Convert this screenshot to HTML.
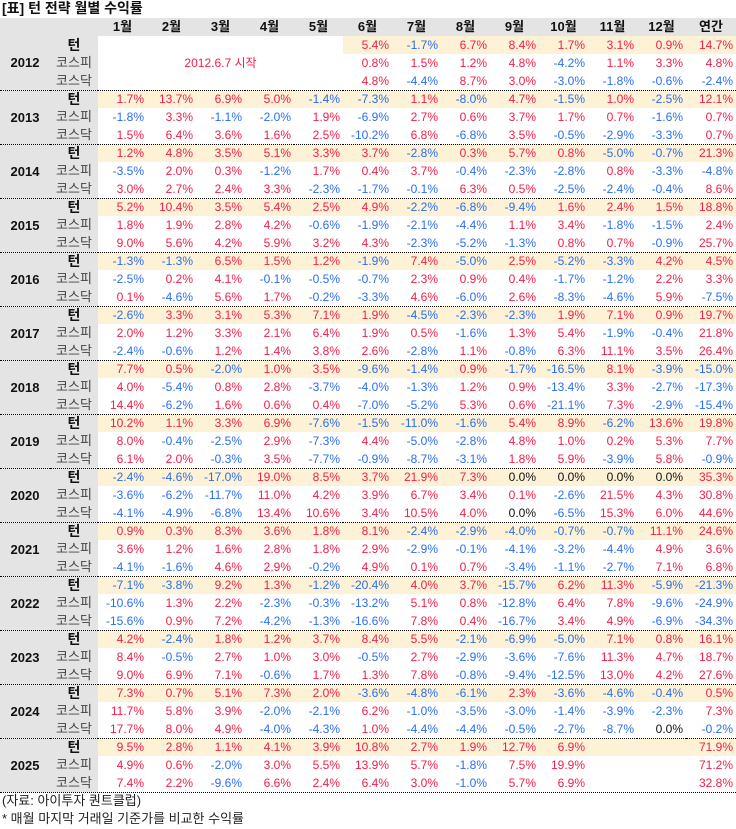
<!DOCTYPE html>
<html><head><meta charset="utf-8"><style>
body{margin:0;background:#fff;width:736px;height:829px;overflow:hidden;font-family:"Liberation Sans","Noto Sans CJK KR",sans-serif;}
.title{position:absolute;left:2px;top:0px;font-size:14px;font-weight:bold;color:#111;line-height:17px}
table{position:absolute;left:0;top:18px;border-collapse:separate;border-spacing:0;table-layout:fixed;width:736px;font-size:12px}
td{padding:0 3px 0 0;line-height:18px;text-align:right;color:#f0204a;white-space:nowrap;overflow:visible}
tr.h td{background:#e4e4e4;font-weight:bold;color:#111;text-align:center;padding:0;font-size:13px}
td.yr{background:#e4e4e4;font-weight:bold;text-align:center;color:#111;padding:0;font-size:13px;vertical-align:middle}
td.lb{background:#e4e4e4;text-align:center;color:#444;padding:0;font-size:13px}
td.tn{background:#e4e4e4;text-align:center;color:#111;font-weight:bold;padding:0;font-size:14px}
tr.t td{border-top:1px dotted #000;line-height:17px}
tr.y td:not(.yr):not(.tn){background:#fdf1d6}
td.e{background:#fff!important}
td.b{color:#2a6ef0}
td.k{color:#111}
.foot{position:absolute;left:2px;font-size:13px;color:#222;line-height:16px}
</style></head><body>
<div class="title">[표] 턴 전략 월별 수익률</div>
<table>
<colgroup><col style="width:50px"><col style="width:48px"><col span="12" style="width:49px"><col style="width:50px"></colgroup>
<tr class="h"><td></td><td></td><td>1월</td><td>2월</td><td>3월</td><td>4월</td><td>5월</td><td>6월</td><td>7월</td><td>8월</td><td>9월</td><td>10월</td><td>11월</td><td>12월</td><td>연간</td></tr>

<tr class="y"><td rowspan="3" class="yr">2012</td><td class="tn">턴</td><td class="e"></td><td class="e"></td><td class="e"></td><td class="e"></td><td class="e"></td><td>5.4%</td><td class="b">-1.7%</td><td>6.7%</td><td>8.4%</td><td>1.7%</td><td>3.1%</td><td>0.9%</td><td>14.7%</td></tr>
<tr><td class="lb">코스피</td><td colspan="5" style="text-align:center;padding:0">2012.6.7 시작</td><td>0.8%</td><td>1.5%</td><td>1.2%</td><td>4.8%</td><td class="b">-4.2%</td><td>1.1%</td><td>3.3%</td><td>4.8%</td></tr>
<tr><td class="lb">코스닥</td><td></td><td></td><td></td><td></td><td></td><td>4.8%</td><td class="b">-4.4%</td><td>8.7%</td><td>3.0%</td><td class="b">-3.0%</td><td class="b">-1.8%</td><td class="b">-0.6%</td><td class="b">-2.4%</td></tr>

<tr class="t y"><td rowspan="3" class="yr">2013</td><td class="tn">턴</td><td>1.7%</td><td>13.7%</td><td>6.9%</td><td>5.0%</td><td class="b">-1.4%</td><td class="b">-7.3%</td><td>1.1%</td><td class="b">-8.0%</td><td>4.7%</td><td class="b">-1.5%</td><td>1.0%</td><td class="b">-2.5%</td><td>12.1%</td></tr>
<tr><td class="lb">코스피</td><td class="b">-1.8%</td><td>3.3%</td><td class="b">-1.1%</td><td class="b">-2.0%</td><td>1.9%</td><td class="b">-6.9%</td><td>2.7%</td><td>0.6%</td><td>3.7%</td><td>1.7%</td><td>0.7%</td><td class="b">-1.6%</td><td>0.7%</td></tr>
<tr><td class="lb">코스닥</td><td>1.5%</td><td>6.4%</td><td>3.6%</td><td>1.6%</td><td>2.5%</td><td class="b">-10.2%</td><td>6.8%</td><td class="b">-6.8%</td><td>3.5%</td><td class="b">-0.5%</td><td class="b">-2.9%</td><td class="b">-3.3%</td><td>0.7%</td></tr>

<tr class="t y"><td rowspan="3" class="yr">2014</td><td class="tn">턴</td><td>1.2%</td><td>4.8%</td><td>3.5%</td><td>5.1%</td><td>3.3%</td><td>3.7%</td><td class="b">-2.8%</td><td>0.3%</td><td>5.7%</td><td>0.8%</td><td class="b">-5.0%</td><td class="b">-0.7%</td><td>21.3%</td></tr>
<tr><td class="lb">코스피</td><td class="b">-3.5%</td><td>2.0%</td><td>0.3%</td><td class="b">-1.2%</td><td>1.7%</td><td>0.4%</td><td>3.7%</td><td class="b">-0.4%</td><td class="b">-2.3%</td><td class="b">-2.8%</td><td>0.8%</td><td class="b">-3.3%</td><td class="b">-4.8%</td></tr>
<tr><td class="lb">코스닥</td><td>3.0%</td><td>2.7%</td><td>2.4%</td><td>3.3%</td><td class="b">-2.3%</td><td class="b">-1.7%</td><td class="b">-0.1%</td><td>6.3%</td><td>0.5%</td><td class="b">-2.5%</td><td class="b">-2.4%</td><td class="b">-0.4%</td><td>8.6%</td></tr>

<tr class="t y"><td rowspan="3" class="yr">2015</td><td class="tn">턴</td><td>5.2%</td><td>10.4%</td><td>3.5%</td><td>5.4%</td><td>2.5%</td><td>4.9%</td><td class="b">-2.2%</td><td class="b">-6.8%</td><td class="b">-9.4%</td><td>1.6%</td><td>2.4%</td><td>1.5%</td><td>18.8%</td></tr>
<tr><td class="lb">코스피</td><td>1.8%</td><td>1.9%</td><td>2.8%</td><td>4.2%</td><td class="b">-0.6%</td><td class="b">-1.9%</td><td class="b">-2.1%</td><td class="b">-4.4%</td><td>1.1%</td><td>3.4%</td><td class="b">-1.8%</td><td class="b">-1.5%</td><td>2.4%</td></tr>
<tr><td class="lb">코스닥</td><td>9.0%</td><td>5.6%</td><td>4.2%</td><td>5.9%</td><td>3.2%</td><td>4.3%</td><td class="b">-2.3%</td><td class="b">-5.2%</td><td class="b">-1.3%</td><td>0.8%</td><td>0.7%</td><td class="b">-0.9%</td><td>25.7%</td></tr>

<tr class="t y"><td rowspan="3" class="yr">2016</td><td class="tn">턴</td><td class="b">-1.3%</td><td class="b">-1.3%</td><td>6.5%</td><td>1.5%</td><td>1.2%</td><td class="b">-1.9%</td><td>7.4%</td><td class="b">-5.0%</td><td>2.5%</td><td class="b">-5.2%</td><td class="b">-3.3%</td><td>4.2%</td><td>4.5%</td></tr>
<tr><td class="lb">코스피</td><td class="b">-2.5%</td><td>0.2%</td><td>4.1%</td><td class="b">-0.1%</td><td class="b">-0.5%</td><td class="b">-0.7%</td><td>2.3%</td><td>0.9%</td><td>0.4%</td><td class="b">-1.7%</td><td class="b">-1.2%</td><td>2.2%</td><td>3.3%</td></tr>
<tr><td class="lb">코스닥</td><td>0.1%</td><td class="b">-4.6%</td><td>5.6%</td><td>1.7%</td><td class="b">-0.2%</td><td class="b">-3.3%</td><td>4.6%</td><td class="b">-6.0%</td><td>2.6%</td><td class="b">-8.3%</td><td class="b">-4.6%</td><td>5.9%</td><td class="b">-7.5%</td></tr>

<tr class="t y"><td rowspan="3" class="yr">2017</td><td class="tn">턴</td><td class="b">-2.6%</td><td>3.3%</td><td>3.1%</td><td>5.3%</td><td>7.1%</td><td>1.9%</td><td class="b">-4.5%</td><td class="b">-2.3%</td><td class="b">-2.3%</td><td>1.9%</td><td>7.1%</td><td>0.9%</td><td>19.7%</td></tr>
<tr><td class="lb">코스피</td><td>2.0%</td><td>1.2%</td><td>3.3%</td><td>2.1%</td><td>6.4%</td><td>1.9%</td><td>0.5%</td><td class="b">-1.6%</td><td>1.3%</td><td>5.4%</td><td class="b">-1.9%</td><td class="b">-0.4%</td><td>21.8%</td></tr>
<tr><td class="lb">코스닥</td><td class="b">-2.4%</td><td class="b">-0.6%</td><td>1.2%</td><td>1.4%</td><td>3.8%</td><td>2.6%</td><td class="b">-2.8%</td><td>1.1%</td><td class="b">-0.8%</td><td>6.3%</td><td>11.1%</td><td>3.5%</td><td>26.4%</td></tr>

<tr class="t y"><td rowspan="3" class="yr">2018</td><td class="tn">턴</td><td>7.7%</td><td>0.5%</td><td class="b">-2.0%</td><td>1.0%</td><td>3.5%</td><td class="b">-9.6%</td><td class="b">-1.4%</td><td>0.9%</td><td class="b">-1.7%</td><td class="b">-16.5%</td><td>8.1%</td><td class="b">-3.9%</td><td class="b">-15.0%</td></tr>
<tr><td class="lb">코스피</td><td>4.0%</td><td class="b">-5.4%</td><td>0.8%</td><td>2.8%</td><td class="b">-3.7%</td><td class="b">-4.0%</td><td class="b">-1.3%</td><td>1.2%</td><td>0.9%</td><td class="b">-13.4%</td><td>3.3%</td><td class="b">-2.7%</td><td class="b">-17.3%</td></tr>
<tr><td class="lb">코스닥</td><td>14.4%</td><td class="b">-6.2%</td><td>1.6%</td><td>0.6%</td><td>0.4%</td><td class="b">-7.0%</td><td class="b">-5.2%</td><td>5.3%</td><td>0.6%</td><td class="b">-21.1%</td><td>7.3%</td><td class="b">-2.9%</td><td class="b">-15.4%</td></tr>

<tr class="t y"><td rowspan="3" class="yr">2019</td><td class="tn">턴</td><td>10.2%</td><td>1.1%</td><td>3.3%</td><td>6.9%</td><td class="b">-7.6%</td><td class="b">-1.5%</td><td class="b">-11.0%</td><td class="b">-1.6%</td><td>5.4%</td><td>8.9%</td><td class="b">-6.2%</td><td>13.6%</td><td>19.8%</td></tr>
<tr><td class="lb">코스피</td><td>8.0%</td><td class="b">-0.4%</td><td class="b">-2.5%</td><td>2.9%</td><td class="b">-7.3%</td><td>4.4%</td><td class="b">-5.0%</td><td class="b">-2.8%</td><td>4.8%</td><td>1.0%</td><td>0.2%</td><td>5.3%</td><td>7.7%</td></tr>
<tr><td class="lb">코스닥</td><td>6.1%</td><td>2.0%</td><td class="b">-0.3%</td><td>3.5%</td><td class="b">-7.7%</td><td class="b">-0.9%</td><td class="b">-8.7%</td><td class="b">-3.1%</td><td>1.8%</td><td>5.9%</td><td class="b">-3.9%</td><td>5.8%</td><td class="b">-0.9%</td></tr>

<tr class="t y"><td rowspan="3" class="yr">2020</td><td class="tn">턴</td><td class="b">-2.4%</td><td class="b">-4.6%</td><td class="b">-17.0%</td><td>19.0%</td><td>8.5%</td><td>3.7%</td><td>21.9%</td><td>7.3%</td><td class="k">0.0%</td><td class="k">0.0%</td><td class="k">0.0%</td><td class="k">0.0%</td><td>35.3%</td></tr>
<tr><td class="lb">코스피</td><td class="b">-3.6%</td><td class="b">-6.2%</td><td class="b">-11.7%</td><td>11.0%</td><td>4.2%</td><td>3.9%</td><td>6.7%</td><td>3.4%</td><td>0.1%</td><td class="b">-2.6%</td><td>21.5%</td><td>4.3%</td><td>30.8%</td></tr>
<tr><td class="lb">코스닥</td><td class="b">-4.1%</td><td class="b">-4.9%</td><td class="b">-6.8%</td><td>13.4%</td><td>10.6%</td><td>3.4%</td><td>10.5%</td><td>4.0%</td><td class="k">0.0%</td><td class="b">-6.5%</td><td>15.3%</td><td>6.0%</td><td>44.6%</td></tr>

<tr class="t y"><td rowspan="3" class="yr">2021</td><td class="tn">턴</td><td>0.9%</td><td>0.3%</td><td>8.3%</td><td>3.6%</td><td>1.8%</td><td>8.1%</td><td class="b">-2.4%</td><td class="b">-2.9%</td><td class="b">-4.0%</td><td class="b">-0.7%</td><td class="b">-0.7%</td><td>11.1%</td><td>24.6%</td></tr>
<tr><td class="lb">코스피</td><td>3.6%</td><td>1.2%</td><td>1.6%</td><td>2.8%</td><td>1.8%</td><td>2.9%</td><td class="b">-2.9%</td><td class="b">-0.1%</td><td class="b">-4.1%</td><td class="b">-3.2%</td><td class="b">-4.4%</td><td>4.9%</td><td>3.6%</td></tr>
<tr><td class="lb">코스닥</td><td class="b">-4.1%</td><td class="b">-1.6%</td><td>4.6%</td><td>2.9%</td><td class="b">-0.2%</td><td>4.9%</td><td>0.1%</td><td>0.7%</td><td class="b">-3.4%</td><td class="b">-1.1%</td><td class="b">-2.7%</td><td>7.1%</td><td>6.8%</td></tr>

<tr class="t y"><td rowspan="3" class="yr">2022</td><td class="tn">턴</td><td class="b">-7.1%</td><td class="b">-3.8%</td><td>9.2%</td><td>1.3%</td><td class="b">-1.2%</td><td class="b">-20.4%</td><td>4.0%</td><td>3.7%</td><td class="b">-15.7%</td><td>6.2%</td><td>11.3%</td><td class="b">-5.9%</td><td class="b">-21.3%</td></tr>
<tr><td class="lb">코스피</td><td class="b">-10.6%</td><td>1.3%</td><td>2.2%</td><td class="b">-2.3%</td><td class="b">-0.3%</td><td class="b">-13.2%</td><td>5.1%</td><td>0.8%</td><td class="b">-12.8%</td><td>6.4%</td><td>7.8%</td><td class="b">-9.6%</td><td class="b">-24.9%</td></tr>
<tr><td class="lb">코스닥</td><td class="b">-15.6%</td><td>0.9%</td><td>7.2%</td><td class="b">-4.2%</td><td class="b">-1.3%</td><td class="b">-16.6%</td><td>7.8%</td><td>0.4%</td><td class="b">-16.7%</td><td>3.4%</td><td>4.9%</td><td class="b">-6.9%</td><td class="b">-34.3%</td></tr>

<tr class="t y"><td rowspan="3" class="yr">2023</td><td class="tn">턴</td><td>4.2%</td><td class="b">-2.4%</td><td>1.8%</td><td>1.2%</td><td>3.7%</td><td>8.4%</td><td>5.5%</td><td class="b">-2.1%</td><td class="b">-6.9%</td><td class="b">-5.0%</td><td>7.1%</td><td>0.8%</td><td>16.1%</td></tr>
<tr><td class="lb">코스피</td><td>8.4%</td><td class="b">-0.5%</td><td>2.7%</td><td>1.0%</td><td>3.0%</td><td class="b">-0.5%</td><td>2.7%</td><td class="b">-2.9%</td><td class="b">-3.6%</td><td class="b">-7.6%</td><td>11.3%</td><td>4.7%</td><td>18.7%</td></tr>
<tr><td class="lb">코스닥</td><td>9.0%</td><td>6.9%</td><td>7.1%</td><td class="b">-0.6%</td><td>1.7%</td><td>1.3%</td><td>7.8%</td><td class="b">-0.8%</td><td class="b">-9.4%</td><td class="b">-12.5%</td><td>13.0%</td><td>4.2%</td><td>27.6%</td></tr>

<tr class="t y"><td rowspan="3" class="yr">2024</td><td class="tn">턴</td><td>7.3%</td><td>0.7%</td><td>5.1%</td><td>7.3%</td><td>2.0%</td><td class="b">-3.6%</td><td class="b">-4.8%</td><td class="b">-6.1%</td><td>2.3%</td><td class="b">-3.6%</td><td class="b">-4.6%</td><td class="b">-0.4%</td><td>0.5%</td></tr>
<tr><td class="lb">코스피</td><td>11.7%</td><td>5.8%</td><td>3.9%</td><td class="b">-2.0%</td><td class="b">-2.1%</td><td>6.2%</td><td class="b">-1.0%</td><td class="b">-3.5%</td><td class="b">-3.0%</td><td class="b">-1.4%</td><td class="b">-3.9%</td><td class="b">-2.3%</td><td>7.3%</td></tr>
<tr><td class="lb">코스닥</td><td>17.7%</td><td>8.0%</td><td>4.9%</td><td class="b">-4.0%</td><td class="b">-4.3%</td><td>1.0%</td><td class="b">-4.4%</td><td class="b">-4.4%</td><td class="b">-0.5%</td><td class="b">-2.7%</td><td class="b">-8.7%</td><td class="k">0.0%</td><td class="b">-0.2%</td></tr>

<tr class="t y"><td rowspan="3" class="yr">2025</td><td class="tn">턴</td><td>9.5%</td><td>2.8%</td><td>1.1%</td><td>4.1%</td><td>3.9%</td><td>10.8%</td><td>2.7%</td><td>1.9%</td><td>12.7%</td><td>6.9%</td><td></td><td></td><td>71.9%</td></tr>
<tr><td class="lb">코스피</td><td>4.9%</td><td>0.6%</td><td class="b">-2.0%</td><td>3.0%</td><td>5.5%</td><td>13.9%</td><td>5.7%</td><td class="b">-1.8%</td><td>7.5%</td><td>19.9%</td><td></td><td></td><td>71.2%</td></tr>
<tr><td class="lb">코스닥</td><td>7.4%</td><td>2.2%</td><td class="b">-9.6%</td><td>6.6%</td><td>2.4%</td><td>6.4%</td><td>3.0%</td><td class="b">-1.0%</td><td>5.7%</td><td>6.9%</td><td></td><td></td><td>32.8%</td></tr>
<tr class="t"><td colspan="15" style="line-height:0;height:0"></td></tr>
</table>
<div class="foot" style="top:793px">(자료: 아이투자 퀀트클럽)</div>
<div class="foot" style="top:811px">* 매월 마지막 거래일 기준가를 비교한 수익률</div>
</body></html>
